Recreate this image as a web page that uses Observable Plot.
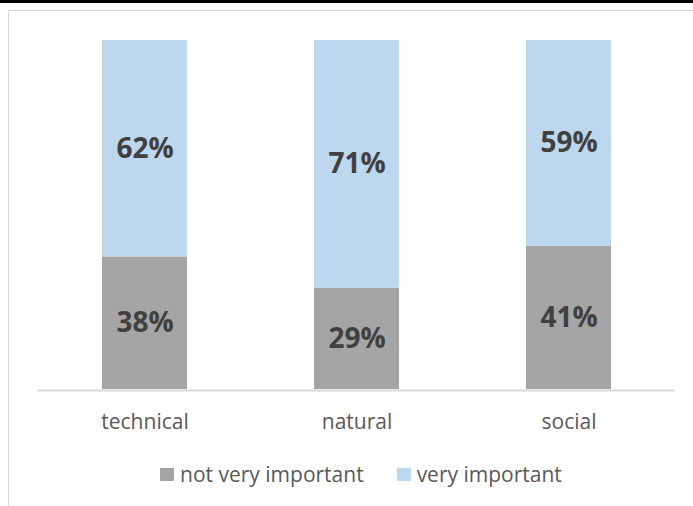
<!DOCTYPE html>
<html>
<head>
<meta charset="utf-8">
<script src="https://cdn.jsdelivr.net/npm/d3@7"></script>
<script src="https://cdn.jsdelivr.net/npm/@observablehq/plot@0.6"></script>
<style>
  html, body { margin: 0; padding: 0; background: #fff; }
  #wrap { position: relative; width: 693px; height: 506px; overflow: hidden; font-family: "Open Sans", sans-serif; }
  #topbar { position: absolute; left: 0; top: 0; width: 693px; height: 3px; background: #000; }
  #frame { position: absolute; left: 8px; top: 10px; width: 720px; height: 540px; border-left: 1.5px solid #d9d9d9; border-top: 1.5px solid #d9d9d9; }
  #chart { position: absolute; left: 0; top: 0; }
  #legend { position: absolute; left: 160px; top: 461px; display: flex; align-items: center; font-size: 21px; color: #595959; line-height: 26px; white-space: nowrap; }
  .item { display: flex; align-items: center; }
  .sw { width: 14px; height: 13px; margin-right: 6px; }
</style>
</head>
<body>
<div id="wrap">
  <div id="topbar"></div>
  <div id="frame"></div>
  <div id="chart"></div>
  <div id="legend"></div>
</div>
<script>
const categories = ["technical", "natural", "social"];
const seriesNames = ["not very important", "very important"];
const notVeryImportant = [38, 29, 41];
const veryImportant = [62, 71, 59];
const seriesColors = ["#a5a5a5", "#bdd7ee"];

const seriesValues = [notVeryImportant, veryImportant];
const rows = [];
seriesNames.forEach((s, si) => {
  categories.forEach((c, ci) => {
    rows.push({category: c, series: s, value: seriesValues[si][ci]});
  });
});

const chart = Plot.plot({
  width: 693,
  height: 450,
  marginLeft: 37,
  marginRight: 18,
  marginTop: 40,
  marginBottom: 61,
  style: {fontFamily: "Open Sans, sans-serif", background: "transparent"},
  x: {domain: categories, paddingInner: 0.6, paddingOuter: 0.3, label: null},
  y: {domain: [0, 100], axis: null},
  color: {domain: seriesNames, range: seriesColors},
  marks: [
    Plot.barY(rows, {x: "category", y: "value", fill: "series"}),
    Plot.ruleY([0], {stroke: "#d9d9d9", strokeWidth: 2, dy: 1}),
    Plot.text(rows, Plot.stackY({
      x: "category", y: "value", z: "series",
      text: d => d.value + "%",
      fill: "#404040", fontSize: 28, fontWeight: "bold"
    })),
    Plot.axisX({tickSize: 0, tickPadding: 25, fontSize: 21, color: "#595959", label: null})
  ]
});
document.getElementById("chart").appendChild(chart);

const legend = document.getElementById("legend");
seriesNames.forEach((s, i) => {
  const item = document.createElement("div");
  item.className = "item";
  if (i > 0) item.style.marginLeft = "33px";
  const sw = document.createElement("span");
  sw.className = "sw";
  sw.style.background = seriesColors[i];
  const t = document.createElement("span");
  t.textContent = s;
  item.appendChild(sw);
  item.appendChild(t);
  legend.appendChild(item);
});
</script>
</body>
</html>
